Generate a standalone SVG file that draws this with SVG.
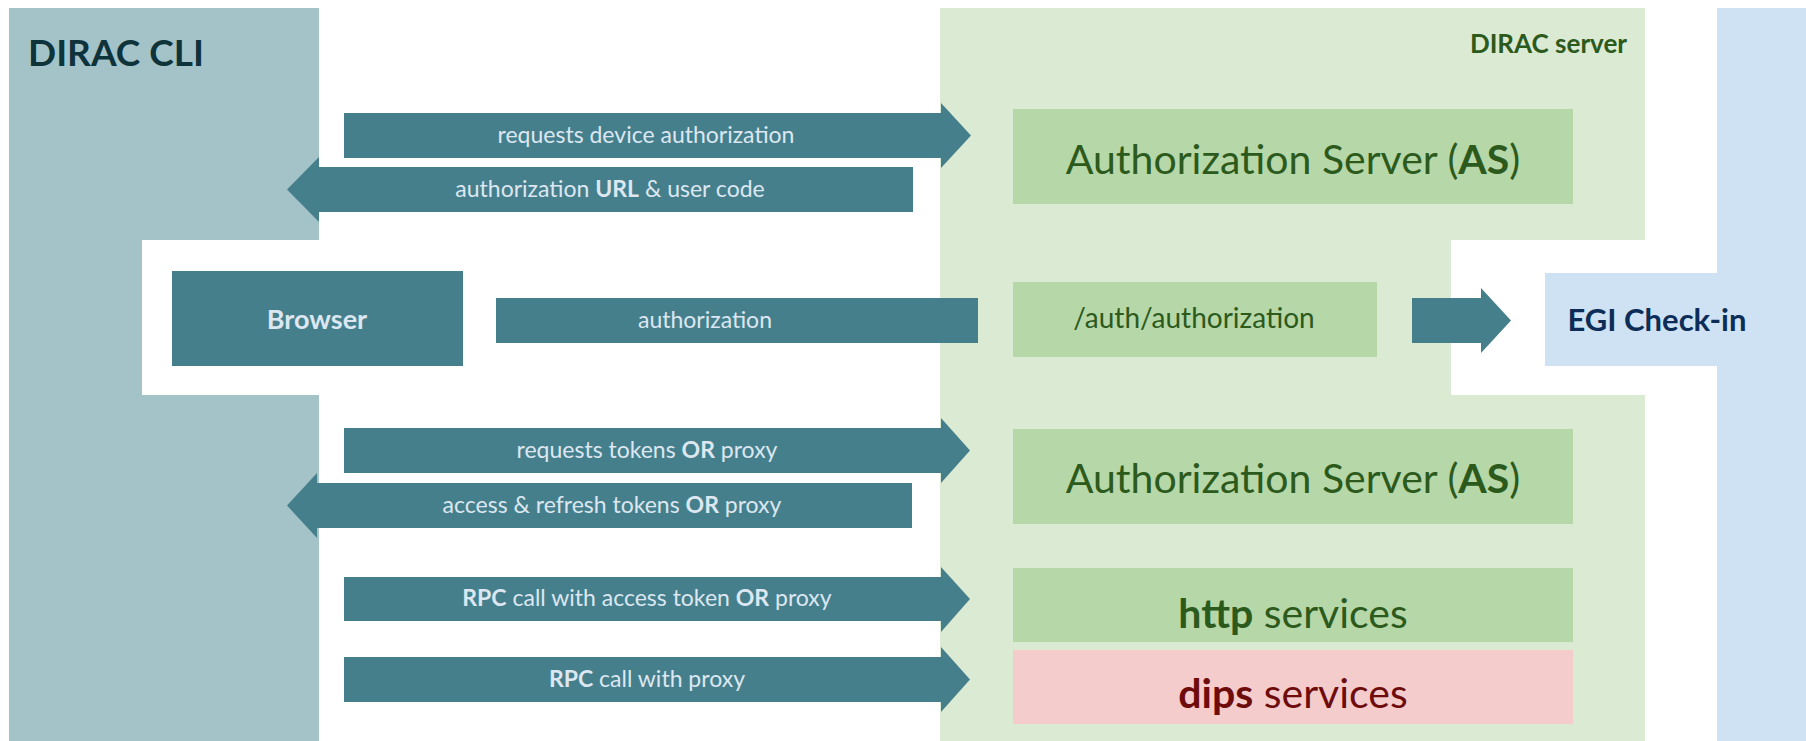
<svg xmlns="http://www.w3.org/2000/svg" width="1806" height="741" viewBox="0 0 1806 741">
<style>
.lbl{font-family:Lato,"Open Sans",sans-serif;font-size:23px;fill:#DCE7F1;text-anchor:middle}
.b{font-weight:bold}
.big{font-family:Lato,"Open Sans",sans-serif;font-size:41px;fill:#2C5A1C;text-anchor:middle}
.arrow{fill:#467F8C}
</style>
<rect width="1806" height="741" fill="#FFFFFF"/>
<g id="dirac-cli">
<rect x="9" y="8" width="310" height="733" fill="#A4C3C8"/>
<rect x="142" y="240" width="798" height="155" fill="#FFFFFF"/>
<text x="28" y="66" font-family="Lato,'Open Sans',sans-serif" font-size="37" font-weight="bold" fill="#0E333B">DIRAC CLI</text>
</g>
<g id="dirac-server">
<rect x="940" y="8" width="705" height="733" fill="#DBEAD3"/>
<rect x="1451" y="240" width="266" height="155" fill="#FFFFFF"/>
<text x="1627" y="53" font-family="Lato,'Open Sans',sans-serif" font-size="26" font-weight="bold" fill="#2C5A1C" text-anchor="end">DIRAC server</text>
</g>
<g id="egi">
<rect x="1717" y="8" width="89" height="733" fill="#CFE2F3"/>
<rect x="1545" y="273" width="172" height="93" fill="#CFE2F3"/>
<text x="1657" y="331" font-family="Lato,'Open Sans',sans-serif" font-size="31" font-weight="bold" fill="#0C2D57" text-anchor="middle">EGI Check-in</text>
</g>
<g id="browser">
<rect x="172" y="271" width="291" height="95" fill="#467F8C"/>
<text x="317" y="329" class="lbl b" style="font-size:27px">Browser</text>
</g>
<g id="as1">
<rect x="1013" y="109" width="560" height="95" fill="#B6D7A8"/>
<text x="1293" y="174" class="big">Authorization Server (<tspan class="b">AS</tspan>)</text>
</g>
<g id="auth-endpoint">
<rect x="1013" y="282" width="364" height="75" fill="#B6D7A8"/>
<text x="1194" y="328" class="big" style="font-size:28px">/auth/authorization</text>
</g>
<g id="as2">
<rect x="1013" y="429" width="560" height="95" fill="#B6D7A8"/>
<text x="1293" y="493" class="big">Authorization Server (<tspan class="b">AS</tspan>)</text>
</g>
<g id="http">
<rect x="1013" y="568" width="560" height="74" fill="#B6D7A8"/>
<text x="1293" y="628" class="big"><tspan class="b">http</tspan> services</text>
</g>
<g id="dips">
<rect x="1013" y="650" width="560" height="74" fill="#F4CCCC"/>
<text x="1293" y="708" class="big" style="fill:#6E0B0B"><tspan class="b">dips</tspan> services</text>
</g>
<g id="connectors">
<polygon class="arrow" points="344,113 941,113 941,103 971,135.5 941,168 941,158 344,158"/>
<text x="646" y="143" class="lbl">requests device authorization</text>
<polygon class="arrow" points="913,167 319,167 319,157 287,189.5 319,222 319,212 913,212"/>
<text x="610" y="197" class="lbl">authorization <tspan class="b">URL</tspan> &amp; user code</text>
<rect class="arrow" x="496" y="298" width="482" height="45"/>
<text x="705" y="328" class="lbl">authorization</text>
<polygon class="arrow" points="1412,298 1481,298 1481,288 1511,320.5 1481,353 1481,343 1412,343"/>
<polygon class="arrow" points="344,428 941,428 941,418 970,450.5 941,483 941,473 344,473"/>
<text x="647" y="458" class="lbl">requests tokens <tspan class="b">OR</tspan> proxy</text>
<polygon class="arrow" points="912,483 317,483 317,473 287,505.5 317,538 317,528 912,528"/>
<text x="612" y="513" class="lbl">access &amp; refresh tokens <tspan class="b">OR</tspan> proxy</text>
<polygon class="arrow" points="344,577 941,577 941,567 970,599 941,632 941,621 344,621"/>
<text x="647" y="606" class="lbl"><tspan class="b">RPC</tspan> call with access token <tspan class="b">OR</tspan> proxy</text>
<polygon class="arrow" points="344,657 941,657 941,647 970,679.5 941,712 941,702 344,702"/>
<text x="647" y="687" class="lbl"><tspan class="b">RPC</tspan> call with proxy</text>
</g>
</svg>
